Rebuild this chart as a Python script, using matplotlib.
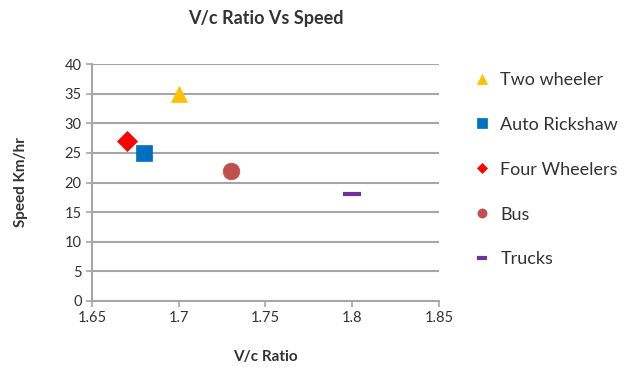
import matplotlib.pyplot as plt

plt.rcParams['font.family'] = ['Lato', 'DejaVu Sans']

# Vehicle classes with their V/c ratio and speed
vehicles = ['Two wheeler', 'Auto Rickshaw', 'Four Wheelers', 'Bus', 'Trucks']
vc_ratio = [1.70, 1.68, 1.67, 1.73, 1.80]
speed = [35, 25, 27, 22, 18]

markers = ['^', 's', 'D', 'o', '_']
colors = ['#FFC000', '#0070C0', '#FF0000', '#C0504D', '#7030A0']
sizes = [12, 12, 10, 12, 13]

fig = plt.figure(figsize=(6.26, 3.71), dpi=100)
ax = fig.add_axes([0.147, 0.189, 0.554, 0.638])

for name, x, y, m, c, s in zip(vehicles, vc_ratio, speed, markers, colors, sizes):
    ax.plot([x], [y], linestyle='none', marker=m, color=c, markersize=s,
            markeredgewidth=3 if m == '_' else 0.5, label=name, zorder=3)

ax.set_xlim(1.65, 1.85)
ax.set_ylim(0, 40)
ax.set_xticks([1.65, 1.7, 1.75, 1.8, 1.85])
ax.set_xticklabels(['1.65', '1.7', '1.75', '1.8', '1.85'])
ax.set_yticks(range(0, 41, 5))

ax.grid(axis='y', color='#A6A6A6', linewidth=1.5)
ax.set_axisbelow(True)
for side in ['top', 'right']:
    ax.spines[side].set_visible(False)
for side in ['left', 'bottom']:
    ax.spines[side].set_color('#A6A6A6')
    ax.spines[side].set_linewidth(1.5)
ax.tick_params(axis='both', colors='#A6A6A6', labelcolor='#333333',
               labelsize=10.5, length=4, width=1.2)

ax.set_title('V/c Ratio Vs Speed', fontsize=13, fontweight='bold',
             color='#333333', pad=29)
ax.set_xlabel('V/c Ratio', fontsize=11, fontweight='bold',
              color='#333333', labelpad=18)
ax.set_ylabel('Speed Km/hr', fontsize=11, fontweight='bold',
              color='#333333', labelpad=26)

fig.legend(loc='upper left', bbox_to_anchor=(0.73, 0.85), frameon=False,
           markerscale=0.55, fontsize=13, labelspacing=1.6,
           handlelength=1.0, handletextpad=0.5, labelcolor='#333333')

fig.savefig('out.png', dpi=100)
